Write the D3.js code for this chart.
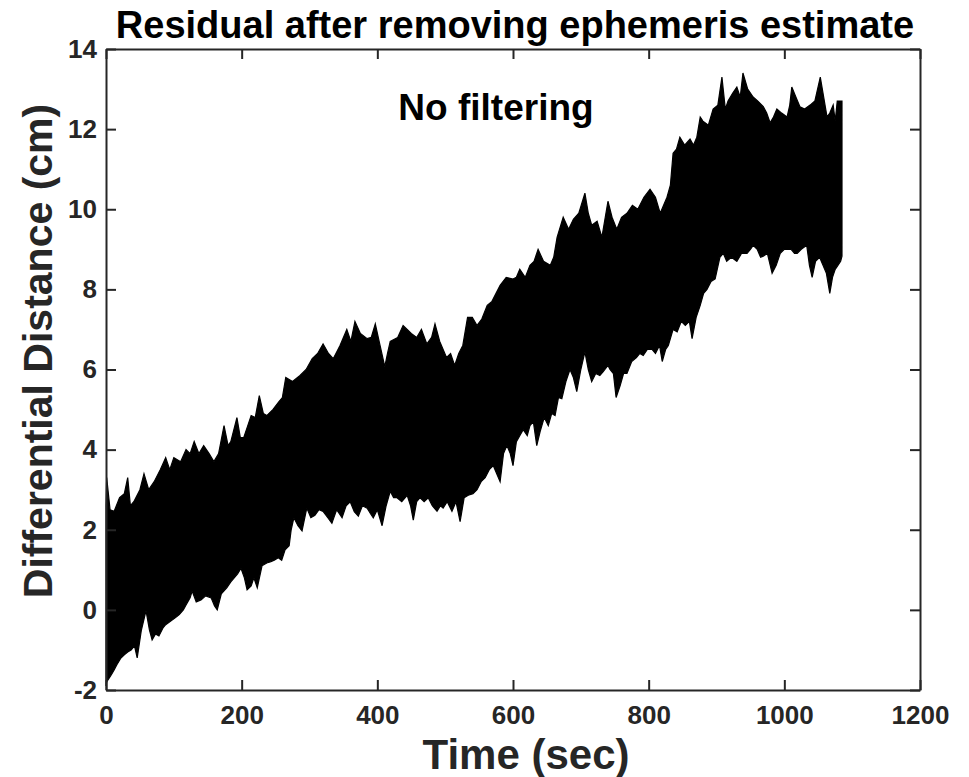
<!DOCTYPE html>
<html>
<head>
<meta charset="utf-8">
<script src="https://cdn.jsdelivr.net/npm/d3@7"></script>
<style>
  body { margin: 0; background: #fff; }
  text { font-family: "Liberation Sans", Arial, Helvetica, sans-serif; font-weight: bold; }
</style>
</head>
<body>
<svg id="chart" width="969" height="777"></svg>
<script>
// upper edge of the noisy trace (time in sec, distance in cm)
var upperTime = [0,1,6,12,20,27,32,36,41,50,56,63,71,80,88,94,100,110,118,124,130,137,144,152,159,166,174,180,184,193,198,203,209,214,220,226,232,237,246,255,260,265,275,286,295,304,312,320,328,335,345,355,361,367,375,385,391,397,404,411,415,419,430,438,444,450,458,465,473,480,485,492,502,508,514,520,526,533,540,547,554,562,569,575,581,590,600,605,610,618,625,631,637,645,655,660,665,674,682,689,697,706,711,716,724,731,736,740,746,753,760,768,776,784,793,802,810,817,822,827,832,836,841,846,853,861,866,871,876,880,888,895,902,908,913,917,924,930,935,939,946,954,961,969,974,979,984,989,996,1004,1008,1011,1017,1023,1030,1038,1045,1053,1058,1063,1067,1072,1075,1078,1083,1085];
var upperVal = [2.6,3.3,2.5,2.46,2.8,2.9,3.3,2.6,2.7,3.0,3.4,3.0,3.2,3.5,3.8,3.5,3.8,3.7,4.0,3.9,4.2,3.9,4.1,3.9,3.7,3.9,4.6,4.1,4.2,4.8,4.3,4.3,4.6,4.85,4.8,5.35,4.9,4.85,5.0,5.2,5.3,5.8,5.7,5.85,6.0,6.27,6.4,6.64,6.4,6.27,6.6,7.0,6.7,7.2,6.9,6.77,6.8,7.14,6.6,6.07,6.4,6.7,6.8,7.1,7.0,6.9,6.8,7.0,6.64,6.8,7.14,6.7,6.3,6.4,6.1,6.4,6.6,7.3,7.3,7.1,7.26,7.6,7.7,7.9,8.1,8.3,8.26,8.3,8.5,8.3,8.6,8.7,9.0,8.7,8.6,8.8,9.3,9.8,9.5,9.75,9.9,10.4,9.9,9.6,9.7,9.3,9.8,10.2,9.8,9.5,9.8,9.9,10.1,10.0,10.3,10.5,10.3,9.9,10.1,10.3,10.6,11.4,11.5,11.8,11.6,11.75,11.6,11.8,12.3,12.2,12.1,12.5,12.6,13.3,12.5,12.7,12.9,13.05,12.8,13.4,13.0,12.8,12.7,12.56,12.4,12.16,12.3,12.5,12.4,12.3,12.6,13.05,12.8,12.56,12.5,12.6,12.7,13.3,12.8,12.3,12.4,12.6,12.2,12.7,12.7,12.7];

// lower edge of the trace
var lowerTime = [0,1,7,12,16,22,27,32,37,42,46,52,59,64,68,73,78,84,88,96,102,108,114,118,124,127,133,140,147,155,160,164,170,178,184,189,194,199,204,208,214,218,223,230,237,243,248,254,259,264,270,273,277,283,289,296,302,308,314,320,327,333,340,348,354,360,366,372,378,385,390,394,400,407,413,419,424,429,436,444,449,453,458,463,469,475,481,488,493,497,503,510,516,522,528,534,541,547,553,559,565,571,576,581,586,591,596,600,605,610,615,621,625,630,635,640,646,652,657,662,667,672,678,684,689,694,700,706,711,716,722,728,733,740,743,748,752,758,763,768,775,782,787,792,798,805,810,816,820,825,829,836,842,848,854,860,864,870,876,881,886,892,898,905,910,915,922,930,937,945,950,954,960,965,969,975,982,988,994,1000,1004,1010,1015,1019,1025,1033,1037,1041,1046,1052,1057,1062,1067,1071,1075,1079,1083,1085];
var lowerVal = [-1.9,-1.8,-1.64,-1.5,-1.37,-1.2,-1.12,-1.05,-1.0,-0.9,-1.2,-0.52,-0.02,-0.5,-0.75,-0.6,-0.65,-0.45,-0.37,-0.27,-0.2,-0.12,0.0,0.12,0.3,0.47,0.2,0.25,0.35,0.3,0.1,0.0,0.4,0.55,0.7,0.8,0.9,1.04,0.8,0.5,0.6,0.8,0.55,1.1,1.17,1.2,1.24,1.3,1.24,1.5,1.6,2.0,2.3,2.1,1.97,2.54,2.3,2.36,2.5,2.46,2.3,2.16,2.5,2.3,2.6,2.7,2.45,2.34,2.6,2.54,2.4,2.3,2.5,2.1,2.6,2.96,2.8,2.8,2.7,2.86,2.6,2.24,2.7,2.8,2.7,2.8,2.6,2.46,2.6,2.54,2.7,2.46,2.7,2.2,2.8,2.86,2.9,3.0,3.2,3.3,3.5,3.6,3.4,3.2,3.9,4.1,3.9,3.6,4.2,4.35,4.5,4.35,4.6,4.7,4.1,4.45,4.8,4.6,4.9,4.85,5.3,5.27,5.7,6.0,5.8,5.45,6.0,6.44,6.0,5.7,5.9,5.85,5.95,6.1,6.0,5.9,5.3,5.6,5.9,5.9,6.2,6.3,6.4,6.35,6.5,6.5,6.4,6.6,6.2,6.5,6.6,7.0,6.94,7.2,7.1,7.2,6.77,7.3,7.6,7.9,8.0,8.2,8.26,8.8,8.9,8.7,8.8,8.7,8.9,8.9,9.0,9.1,9.0,8.8,8.83,8.9,8.4,8.6,8.9,9.0,9.0,9.0,8.9,8.9,9.0,9.1,8.6,8.3,8.7,8.8,8.6,8.4,7.9,8.3,8.5,8.6,8.7,8.83];

var xTicks = [0, 200, 400, 600, 800, 1000, 1200];
var yTicks = [-2, 0, 2, 4, 6, 8, 10, 12, 14];

var titleText = "Residual after removing ephemeris estimate";
var noteText = "No filtering";
var xLabel = "Time (sec)";
var yLabel = "Differential Distance (cm)";

// plot box in pixels (window.top is reserved, so avoid bare "top")
var mLeft = 106, mRight = 920, mTop = 49, mBottom = 690;
var axisColor = "#262626";

var svg = d3.select("#chart");

var x = d3.scaleLinear().domain([0, 1200]).range([mLeft, mRight]);
var y = d3.scaleLinear().domain([-2, 14]).range([mBottom, mTop]);

// trace band: upper edge forward, lower edge back
var pts = upperTime.map(function (t, i) { return [t, upperVal[i]]; });
for (var i = lowerTime.length - 1; i >= 0; i--) pts.push([lowerTime[i], lowerVal[i]]);

var line = d3.line()
  .x(function (d) { return x(d[0]); })
  .y(function (d) { return y(d[1]); });

svg.append("path")
  .attr("d", line(pts) + "Z")
  .attr("fill", "#000")
  .attr("stroke", "#000")
  .attr("stroke-width", 1.2)
  .attr("stroke-linejoin", "miter");

// plain hyphen for negatives, like the original
var plain = function (d) { return String(d); };

// box axes with inward ticks
function styleAxis(g) {
  g.select(".domain").attr("stroke", axisColor).attr("stroke-width", 2);
  g.selectAll(".tick line").attr("stroke", axisColor).attr("stroke-width", 2);
  g.selectAll(".tick text")
    .attr("fill", axisColor)
    .style("font-size", "26px")
    .style("font-family", "'Liberation Sans', Arial, sans-serif")
    .style("font-weight", "bold");
}

var gx = svg.append("g").attr("transform", "translate(0," + mBottom + ")")
  .call(d3.axisBottom(x).tickValues(xTicks).tickSizeInner(-10).tickSizeOuter(0).tickPadding(16).tickFormat(plain));
styleAxis(gx);

var gy = svg.append("g").attr("transform", "translate(" + mLeft + ",0)")
  .call(d3.axisLeft(y).tickValues(yTicks).tickSizeInner(-10).tickSizeOuter(0).tickPadding(9).tickFormat(plain));
styleAxis(gy);

var gt = svg.append("g").attr("transform", "translate(0," + mTop + ")")
  .call(d3.axisTop(x).tickValues(xTicks).tickSizeInner(-10).tickSizeOuter(0).tickFormat(""));
styleAxis(gt);

var gr = svg.append("g").attr("transform", "translate(" + mRight + ",0)")
  .call(d3.axisRight(y).tickValues(yTicks).tickSizeInner(-10).tickSizeOuter(0).tickFormat(""));
styleAxis(gr);

svg.append("text")
  .attr("x", 515).attr("y", 38)
  .attr("text-anchor", "middle")
  .style("font-size", "38px")
  .attr("fill", "#000")
  .text(titleText);

svg.append("text")
  .attr("x", 496).attr("y", 120)
  .attr("text-anchor", "middle")
  .style("font-size", "37px")
  .attr("fill", "#000")
  .text(noteText);

svg.append("text")
  .attr("x", 526).attr("y", 769)
  .attr("text-anchor", "middle")
  .style("font-size", "42px")
  .attr("fill", axisColor)
  .text(xLabel);

svg.append("text")
  .attr("transform", "translate(52,351) rotate(-90)")
  .attr("text-anchor", "middle")
  .style("font-size", "41px")
  .attr("fill", axisColor)
  .text(yLabel);
</script>
</body>
</html>
